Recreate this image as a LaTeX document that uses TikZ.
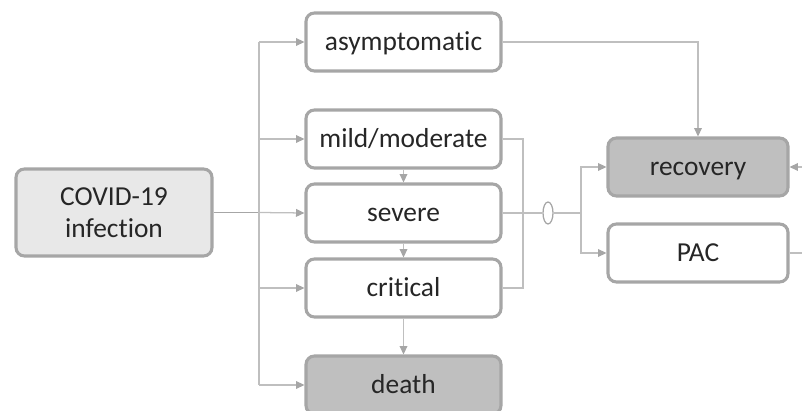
\documentclass[tikz,border=0pt]{standalone}
\usepackage{fontspec}
\setmainfont{Carlito}[Ligatures=NoCommon]
\usetikzlibrary{arrows.meta,shapes.geometric}
\definecolor{boxline}{HTML}{A6A6A6}
\definecolor{conline}{HTML}{BFBFBF}
\definecolor{lightfill}{HTML}{E8E8E8}
\definecolor{darkfill}{HTML}{BFBFBF}
\definecolor{txt}{HTML}{262626}
\tikzset{
    stage/.style={rectangle, rounded corners=6pt, draw=boxline, line width=2.2pt,
        fill=white, minimum width=195*0.025cm, minimum height=58*0.025cm,
        text=txt, font=\fontsize{19.5}{23}\selectfont, inner sep=0pt,
        text height=14pt, text depth=1.6pt},
    outcome/.style={stage, fill=darkfill},
    con/.style={draw=conline, line width=0.9pt},
    arr/.style={con, -{Triangle[length=6pt, width=5.5pt, fill=boxline, color=boxline]}}
}
\begin{document}
\begin{tikzpicture}[x=0.025cm, y=-0.025cm]
    \useasboundingbox (0,0) rectangle (802,411);

    \node (covid) [stage, fill=lightfill, minimum width=196*0.025cm, minimum height=87*0.025cm,
        align=center, text height=, text depth=] at (114, 212.5) {COVID-19\\[-0.5pt]infection};

    \node (asym) [stage] at (403.5, 42) {asymptomatic};
    \node (mild) [stage] at (403.5, 139) {mild/moderate};
    \node (severe) [stage] at (403.5, 213) {severe};
    \node (critical) [stage] at (403.5, 288) {critical};
    \node (death) [outcome] at (403.5, 385) {death};

    \node (recovery) [outcome, minimum width=180*0.025cm] at (698, 167) {recovery};
    \node (pac) [stage, minimum width=180*0.025cm] at (698, 253) {PAC};

    \node (oval) [ellipse, draw=boxline, line width=0.9pt, minimum width=10*0.025cm,
        minimum height=22*0.025cm, inner sep=0pt] at (548, 213) {};

    \coordinate (trunk) at (259, 212.5);
    \coordinate (trunkT) at (259, 42);
    \coordinate (trunkB) at (259, 385);
    \coordinate (join) at (523, 213);
    \coordinate (split) at (581, 213);
    \coordinate (recIn) at (802, 167);
    \coordinate (pacOut) at (802, 253);

    % left fan-out
    \path[con, draw=boxline] (covid.east) -- (trunk);
    \path[con] (trunkT) -- (trunkB);
    \path[arr] (trunkT) -- (asym.west);
    \path[arr] (trunk |- mild.west) -- (mild.west);
    \path[arr] (trunk) -- (severe.west);
    \path[arr] (trunk |- critical.west) -- (critical.west);
    \path[arr] (trunkB) -- (death.west);

    % progression
    \path[arr] (mild.south) -- (severe.north);
    \path[arr] (severe.south) -- (critical.north);
    \path[arr] (critical.south) -- (death.north);

    % right side
    \path[con] (mild.east) -| (join);
    \path[con] (critical.east) -| (join);
    \path[con] (severe.east) -- (join) -- (oval.west);
    \path[con] (oval.east) -- (split);
    \path[arr] (split) |- (recovery.west);
    \path[arr] (split) |- (pac.west);
    \path[arr] (asym.east) -| (recovery.north);
    \path[arr] (recIn) -- (recovery.east);
    \path[con] (pac.east) -- (pacOut);

\end{tikzpicture}
\end{document}
